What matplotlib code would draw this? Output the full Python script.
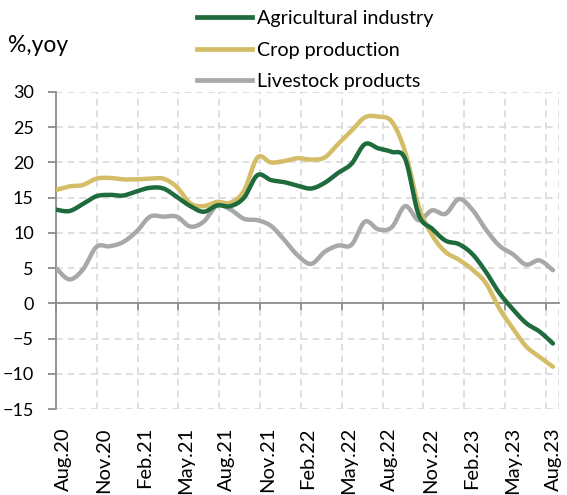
import numpy as np
import matplotlib
matplotlib.use("Agg")
import matplotlib.pyplot as plt
import matplotlib.transforms as mtransforms
from matplotlib.lines import Line2D

plt.rcParams['font.family'] = ['Lato', 'DejaVu Sans']

# ---- data (monthly, % yoy) ----
agri = [13.3, 13.1, 14.1, 15.2, 15.4, 15.3, 15.9, 16.4, 16.3, 15.1,
        13.8, 13.0, 13.9, 13.8, 15.0, 18.2, 17.5, 17.2, 16.7, 16.3,
        17.1, 18.5, 19.8, 22.6, 22.0, 21.5, 20.5, 12.6, 10.6, 8.9,
        8.4, 7.0, 4.5, 1.5, -0.8, -2.8, -4.0, -5.7]
crop = [16.1, 16.6, 16.8, 17.7, 17.8, 17.6, 17.6, 17.7, 17.7, 16.5,
        14.2, 13.8, 14.4, 14.3, 16.0, 20.7, 20.0, 20.2, 20.6, 20.4,
        20.7, 22.6, 24.5, 26.4, 26.5, 25.8, 21.5, 13.8, 9.7, 7.3,
        6.2, 4.8, 2.9, -0.7, -3.5, -6.1, -7.6, -9.0]
livestock = [5.0, 3.4, 4.8, 8.0, 8.1, 8.7, 10.2, 12.3, 12.3, 12.3,
             10.9, 11.6, 13.9, 13.3, 12.0, 11.8, 11.0, 9.0, 6.8, 5.6,
             7.3, 8.2, 8.3, 11.6, 10.5, 10.8, 13.8, 11.8, 13.2, 12.7,
             14.8, 13.3, 10.5, 8.2, 7.0, 5.5, 6.1, 4.7]
series_names = ["Agricultural industry", "Crop production", "Livestock products"]
tick_labels = ["Aug.20", "Nov.20", "Feb.21", "May.21", "Aug.21", "Nov.21", "Feb.22",
               "May.22", "Aug.22", "Nov.22", "Feb.23", "May.23", "Aug.23"]
y_ticks = [-15, -10, -5, 0, 5, 10, 15, 20, 25, 30]

colors = ["#1f6b3d", "#d4bd66", "#a8a8a8"]


def smooth(y, n=20):
    """Excel-like smoothed line (cubic Bezier through the points)."""
    y = np.asarray(y, float)
    x = np.arange(len(y), dtype=float)
    P = np.column_stack([x, y])
    out = [P[0]]
    for i in range(len(P) - 1):
        p0 = P[i - 1] if i > 0 else P[i]
        p1, p2 = P[i], P[i + 1]
        p3 = P[i + 2] if i + 2 < len(P) else P[i + 1]
        c1 = p1 + (p2 - p0) / 6.0
        c2 = p2 - (p3 - p1) / 6.0
        t = np.linspace(0, 1, n + 1)[1:, None]
        seg = ((1 - t) ** 3) * p1 + 3 * ((1 - t) ** 2) * t * c1 + 3 * (1 - t) * t ** 2 * c2 + t ** 3 * p2
        out.extend(seg)
    out = np.array(out)
    return out[:, 0], out[:, 1]


W, H = 567, 495
fig = plt.figure(figsize=(W / 100, H / 100), dpi=100)
ax = fig.add_axes([56 / W, 1 - 409 / H, (559 - 56) / W, (409 - 92) / H])

step = 40.83 / 13.43  # tick spacing in data-point units
tick_pos = [j * step for j in range(len(tick_labels))]

ax.set_ylim(-15, 30)
ax.set_xlim(0, (559 - 56) / 13.43)

grid_col = "#d9d9d9"
for tp in tick_pos:
    ax.axvline(tp, color=grid_col, lw=1.2, ls=(0, (4, 3)), zorder=0)
for yt in y_ticks:
    if yt != 0:
        ax.axhline(yt, color=grid_col, lw=1.2, ls=(0, (4, 3)), zorder=0)
ax.axvline(ax.get_xlim()[1], color=grid_col, lw=1.2, ls=(0, (4, 3)), zorder=0)

for vals, c in zip([livestock, crop, agri], [colors[2], colors[1], colors[0]]):
    xs, ys = smooth(vals)
    ax.plot(xs, ys, color=c, lw=3.2, solid_capstyle='round', zorder=3)

# spines
for s in ['top', 'right']:
    ax.spines[s].set_visible(False)
ax.spines['left'].set_color("#8c8c8c")
ax.spines['left'].set_linewidth(1.3)
ax.spines['bottom'].set_position(('data', 0))
ax.spines['bottom'].set_color("#8c8c8c")
ax.spines['bottom'].set_linewidth(1.3)

ax.set_yticks(y_ticks)
ax.tick_params(axis='y', direction='out', length=6, width=1.3, color="#8c8c8c",
               labelsize=13, pad=10)
ax.set_xticks(tick_pos)
ax.tick_params(axis='x', direction='out', length=5, width=1.3, color="#8c8c8c",
               labelbottom=False)

sec = ax.secondary_xaxis('bottom')
sec.set_xticks(tick_pos)
sec.set_xticklabels(tick_labels, rotation=90, fontsize=14.5)
sec.tick_params(length=0, pad=13)
sec.spines['bottom'].set_visible(False)
shift = mtransforms.ScaledTranslation(7 / 100, 0, fig.dpi_scale_trans)
for lab in sec.get_xticklabels():
    lab.set_transform(lab.get_transform() + shift)

fig.text(8 / W, 1 - 45 / H, "%,yoy", fontsize=16.5, va='center', ha='left')

handles = [Line2D([0], [0], color=c, lw=3.4) for c in colors]
fig.legend(handles, series_names, loc='upper left',
           bbox_to_anchor=(197 / W, 1 - 10 / H), frameon=False,
           fontsize=14.2, handlelength=2.8, handletextpad=0.25,
           labelspacing=0.74, borderaxespad=0, borderpad=0)

fig.savefig("out.png", dpi=100)
